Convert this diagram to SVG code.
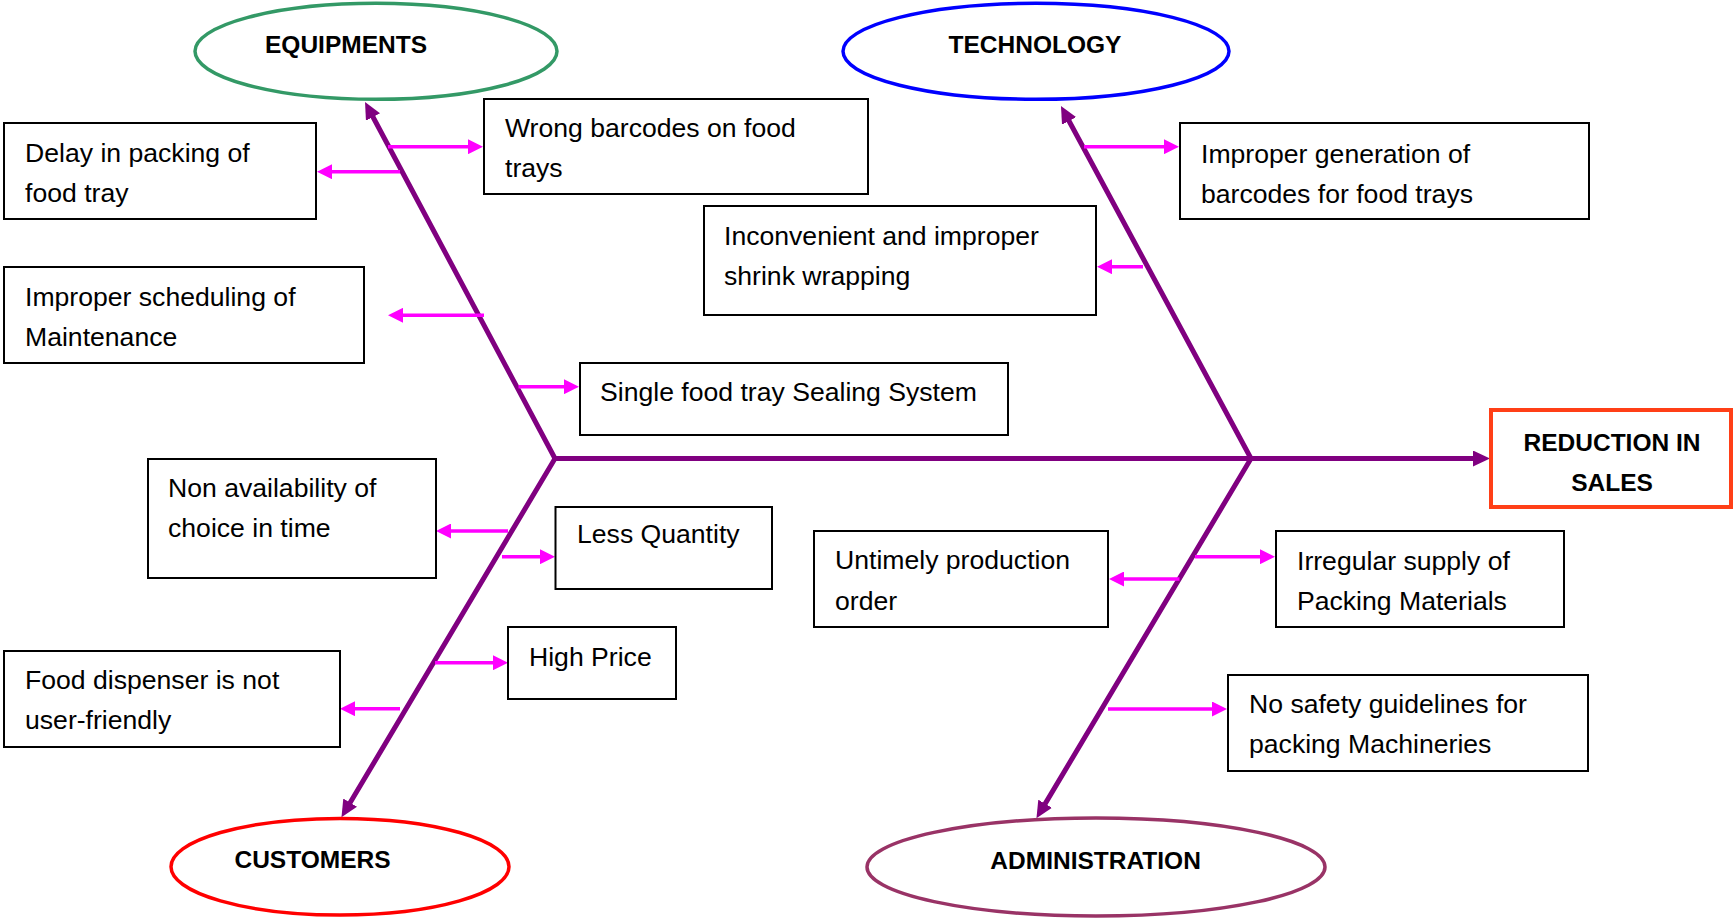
<svg xmlns="http://www.w3.org/2000/svg" width="1733" height="918" viewBox="0 0 1733 918">
  <style>
    .box { fill: #ffffff; stroke: #000000; stroke-width: 2; }
    .txt { font-family: "Liberation Sans", Arial, sans-serif; font-size: 26.6px; fill: #000000; }
    .lbl { font-family: "Liberation Sans", Arial, sans-serif; font-size: 24.5px; font-weight: bold; fill: #000000; text-anchor: middle; }
    .cat { fill: #ffffff; stroke-width: 3.5; }
    .bone { fill: none; stroke: #800080; stroke-width: 5; stroke-linejoin: miter; }
    .cause { fill: none; stroke: #ff00ff; stroke-width: 3.6; marker-end: url(#mag); }
  </style>
  <defs>
    <marker id="pur" markerUnits="userSpaceOnUse" markerWidth="17" markerHeight="16" refX="6" refY="8" orient="auto-start-reverse">
      <path d="M0,0 L17,8 L0,16 z" fill="#800080"/>
    </marker>
    <marker id="mag" markerUnits="userSpaceOnUse" markerWidth="15" markerHeight="15" refX="5" refY="7.5" orient="auto">
      <path d="M0,0 L15,7.5 L0,15 z" fill="#ff00ff"/>
    </marker>
  </defs>
  <rect width="1733" height="918" fill="#ffffff"/>

  <!-- skeleton: spine and four category bones -->
  <g id="connectors">
    <path class="bone" d="M555,458.5 H1479" marker-end="url(#pur)"/>
    <path class="bone" d="M370.2,111.7 L555,458.5 L347.1,807.8" marker-start="url(#pur)" marker-end="url(#pur)"/>
    <path class="bone" d="M1066.2,115.7 L1251,458.5 L1042.1,808.9" marker-start="url(#pur)" marker-end="url(#pur)"/>

    <!-- cause arrows -->
    <path class="cause" d="M388,146.7 H473"/>
    <path class="cause" d="M400,171.7 H327"/>
    <path class="cause" d="M484,315.3 H398"/>
    <path class="cause" d="M518.5,386.7 H569"/>
    <path class="cause" d="M1084,146.7 H1169"/>
    <path class="cause" d="M1143,266.7 H1107"/>
    <path class="cause" d="M508,531 H446"/>
    <path class="cause" d="M502,556.7 H545"/>
    <path class="cause" d="M435,662.7 H498"/>
    <path class="cause" d="M400,708.7 H350"/>
    <path class="cause" d="M1195,556.7 H1265"/>
    <path class="cause" d="M1179.5,579 H1119"/>
    <path class="cause" d="M1108,709 H1217"/>
  </g>

  <!-- categories -->
  <g id="equipments">
    <ellipse class="cat" cx="376" cy="51.3" rx="181" ry="48" stroke="#339966"/>
    <text class="lbl" x="346" y="53">EQUIPMENTS</text>
  </g>
  <g id="technology">
    <ellipse class="cat" cx="1036" cy="51.3" rx="193" ry="48" stroke="#0000ff" stroke-width="4"/>
    <text class="lbl" x="1035" y="53">TECHNOLOGY</text>
  </g>
  <g id="customers">
    <ellipse class="cat" cx="340" cy="866.7" rx="169" ry="48.3" stroke="#ff0000" stroke-width="4"/>
    <text class="lbl" x="312.5" y="868">CUSTOMERS</text>
  </g>
  <g id="administration">
    <ellipse class="cat" cx="1096" cy="867" rx="229" ry="49" stroke="#993366"/>
    <text class="lbl" x="1095.6" y="869">ADMINISTRATION</text>
  </g>

  <!-- effect -->
  <g id="reduction-in-sales">
    <rect x="1491" y="410" width="240" height="97" fill="#ffffff" stroke="#ff3f17" stroke-width="4"/>
    <text class="lbl" x="1612" y="451">REDUCTION IN</text>
    <text class="lbl" x="1612" y="491">SALES</text>
  </g>

  <!-- equipment causes -->
  <g id="delay-packing">
    <rect class="box" x="4" y="123" width="312" height="96"/>
    <text class="txt" x="25" y="162">Delay in packing of</text>
    <text class="txt" x="25" y="202">food tray</text>
  </g>
  <g id="wrong-barcodes">
    <rect class="box" x="484" y="99" width="384" height="95"/>
    <text class="txt" x="505" y="137">Wrong barcodes on food</text>
    <text class="txt" x="505" y="177">trays</text>
  </g>
  <g id="improper-scheduling">
    <rect class="box" x="4" y="267" width="360" height="96"/>
    <text class="txt" x="25" y="306">Improper scheduling of</text>
    <text class="txt" x="25" y="346">Maintenance</text>
  </g>
  <g id="single-sealing">
    <rect class="box" x="580" y="363" width="428" height="72"/>
    <text class="txt" x="600" y="401">Single food tray Sealing System</text>
  </g>

  <!-- technology causes -->
  <g id="improper-generation">
    <rect class="box" x="1180" y="123" width="409" height="96"/>
    <text class="txt" x="1201" y="163">Improper generation of</text>
    <text class="txt" x="1201" y="203">barcodes for food trays</text>
  </g>
  <g id="shrink-wrapping">
    <rect class="box" x="704" y="206" width="392" height="109"/>
    <text class="txt" x="724" y="245">Inconvenient and improper</text>
    <text class="txt" x="724" y="285">shrink wrapping</text>
  </g>

  <!-- customer causes -->
  <g id="non-availability">
    <rect class="box" x="148" y="459" width="288" height="119"/>
    <text class="txt" x="168" y="497">Non availability of</text>
    <text class="txt" x="168" y="537">choice in time</text>
  </g>
  <g id="less-quantity">
    <rect class="box" x="555.5" y="507" width="216.5" height="82"/>
    <text class="txt" x="577" y="543">Less Quantity</text>
  </g>
  <g id="high-price">
    <rect class="box" x="508" y="627" width="168" height="72"/>
    <text class="txt" x="529" y="666">High Price</text>
  </g>
  <g id="food-dispenser">
    <rect class="box" x="4" y="651" width="336" height="96"/>
    <text class="txt" x="25" y="689">Food dispenser is not</text>
    <text class="txt" x="25" y="729">user-friendly</text>
  </g>

  <!-- administration causes -->
  <g id="untimely-order">
    <rect class="box" x="814" y="531" width="294" height="96"/>
    <text class="txt" x="835" y="569">Untimely production</text>
    <text class="txt" x="835" y="610">order</text>
  </g>
  <g id="irregular-supply">
    <rect class="box" x="1276" y="531" width="288" height="96"/>
    <text class="txt" x="1297" y="570">Irregular supply of</text>
    <text class="txt" x="1297" y="610">Packing Materials</text>
  </g>
  <g id="no-safety">
    <rect class="box" x="1228" y="675" width="360" height="96"/>
    <text class="txt" x="1249" y="713">No safety guidelines for</text>
    <text class="txt" x="1249" y="753">packing Machineries</text>
  </g>
</svg>
